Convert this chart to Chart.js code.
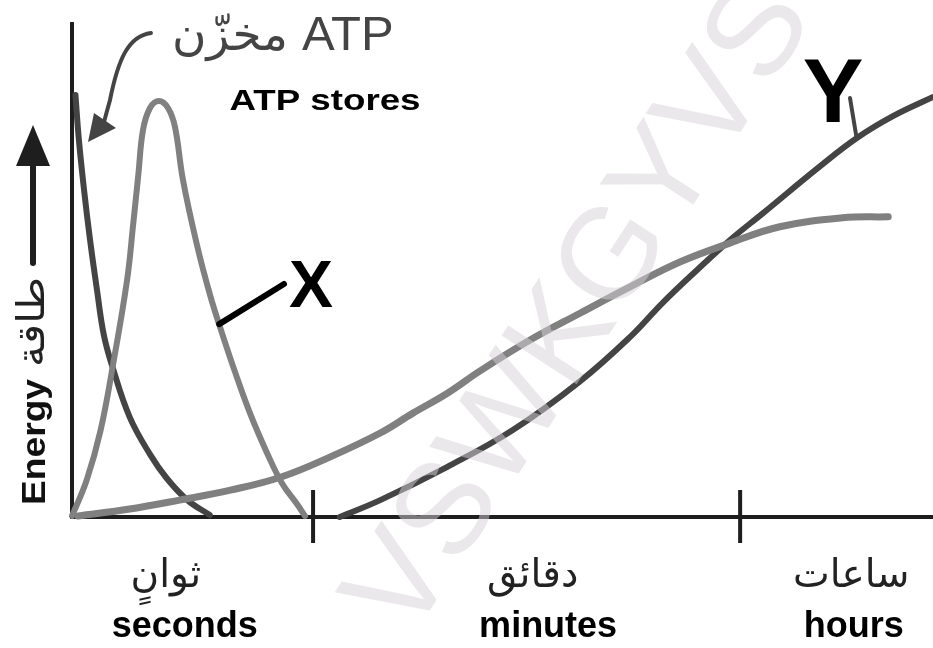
<!DOCTYPE html>
<html>
<head>
<meta charset="utf-8">
<script src="https://cdn.jsdelivr.net/npm/chart.js@4/dist/chart.umd.min.js"></script>
<style>
  html, body { margin: 0; padding: 0; background: #fff; }
  canvas { display: block; }
</style>
</head>
<body>
<canvas id="energyChart" width="933" height="648"></canvas>
<script>
// time runs 0..100 across the axis, energy 0..100 up the axis (no units on the original)

// ATP stores (dark, falls off in seconds)
const atpTime = [0.4, 0.8, 1.4, 2.1, 2.9, 3.7, 4.7, 6.7, 9.1, 11.0, 13.4, 16.0]
const atpEnergy = [84.9, 75.9, 65.8, 55.7, 45.7, 36.6, 30.2, 20.1, 12.5, 7.8, 3.4, 0.4]

// X (grey peak)
const xTime = [0, 1.7, 3.3, 4.8, 6.4, 7.1, 7.7, 8.25, 9.06, 10.1, 11.15, 11.96, 12.89, 14.52, 16.03, 17.42, 18.93, 20.67, 22.65, 24.39, 26.13, 27.06]
const xEnergy = [0.2, 7.4, 17.3, 31.0, 47.7, 58.8, 68.8, 77.9, 82.3, 83.7, 82.3, 78.5, 67.8, 54.7, 44.7, 37.0, 29.2, 20.9, 12.9, 6.8, 2.6, 0.2]

// long grey curve (seconds to hours)
const slowTime = [0.7, 6.7, 12.5, 18.4, 24.2, 30.0, 35.8, 39.6, 43.6, 47.4, 53.2, 59.0, 64.8, 70.6, 76.4, 82.2, 89.5, 94.8]
const slowEnergy = [0.2, 1.6, 3.4, 5.4, 8.0, 12.1, 16.9, 20.9, 24.9, 29.4, 35.6, 41.0, 46.3, 51.3, 55.1, 58.4, 60.2, 60.4]

// Y (dark, minutes to hours)
const yTime = [31.1, 35.8, 43.6, 51.2, 59.0, 64.8, 68.6, 72.6, 76.4, 80.3, 86.9, 91.2, 95.4, 100]
const yEnergy = [0, 3.4, 10.1, 17.5, 27.3, 36.2, 43.1, 49.7, 55.7, 61.2, 70.6, 76.3, 80.7, 84.5]

// axis divisions and their labels
const tickTimes = [28, 77.6]
const periodEn = ['seconds', 'minutes', 'hours']
const periodAr = ['ثوانٍ', 'دقائق', 'ساعات']
const periodEnAt = [13.1, 55.3, 90.8]
const periodArAt = [10.9, 53.5, 90.5]

const DARK = '#444444'
const GREY = '#808080'
const AXIS = '#1e1e1e'
const AR_FONT = '"DejaVu Sans"'
const EN_FONT = '"Liberation Sans", Arial'

function points(xs, ys) {
    return xs.map((x, i) => ({ x: x, y: ys[i] }))
}

function curve(xs, ys, color, width) {
    return {
        data: points(xs, ys),
        borderColor: color,
        borderWidth: width,
        borderCapStyle: 'round',
        borderJoinStyle: 'round',
        tension: 0.4,
        pointRadius: 0,
        clip: false
    }
}

// text helper: optional width stretches/squeezes horizontally
function txt(ctx, s, x, y, font, color, align, w) {
    ctx.save()
    ctx.font = font
    ctx.fillStyle = color
    ctx.textAlign = align || 'center'
    ctx.textBaseline = 'alphabetic'
    ctx.translate(x, y)
    if (w) {
        const m = ctx.measureText(s).width
        ctx.scale(w / m, 1)
    }
    ctx.fillText(s, 0, 0)
    ctx.restore()
}

function line(ctx, x1, y1, x2, y2, color, width) {
    ctx.save()
    ctx.strokeStyle = color
    ctx.lineWidth = width
    ctx.lineCap = 'round'
    ctx.beginPath()
    ctx.moveTo(x1, y1)
    ctx.lineTo(x2, y2)
    ctx.stroke()
    ctx.restore()
}

// axes under the curves
const axesPlugin = {
    id: 'axes',
    beforeDatasetsDraw(chart) {
        const ctx = chart.ctx
        const a = chart.chartArea
        const xs = chart.scales.x
        ctx.save()
        ctx.strokeStyle = AXIS
        ctx.lineWidth = 4
        ctx.lineCap = 'butt'
        ctx.beginPath()
        ctx.moveTo(a.left, a.top + 2)
        ctx.lineTo(a.left, a.bottom + 2)
        ctx.moveTo(a.left - 2, a.bottom)
        ctx.lineTo(a.right, a.bottom)
        tickTimes.forEach(t => {
            const px = xs.getPixelForValue(t)
            ctx.moveTo(px, a.bottom - 27)
            ctx.lineTo(px, a.bottom + 26)
        })
        ctx.stroke()
        ctx.restore()
    }
}

// faint watermark across the plot
const watermarkPlugin = {
    id: 'watermark',
    afterDatasetsDraw(chart) {
        const ctx = chart.ctx
        ctx.save()
        ctx.translate(582, 310)
        ctx.rotate(-57 * Math.PI / 180)
        ctx.font = '130px ' + EN_FONT
        ctx.fillStyle = 'rgba(215,210,215,0.5)'
        ctx.textAlign = 'center'
        ctx.textBaseline = 'middle'
        ctx.fillText('VSWKGYVS', 0, 0)
        ctx.restore()
    }
}

// labels, pointers, arrows
const labelsPlugin = {
    id: 'labels',
    afterDraw(chart) {
        const ctx = chart.ctx
        const xs = chart.scales.x
        const ys = chart.scales.y

        // period labels under the axis
        periodAr.forEach((s, i) => {
            txt(ctx, s, xs.getPixelForValue(periodArAt[i]), 587, '39px ' + AR_FONT, '#222')
        })
        periodEn.forEach((s, i) => {
            txt(ctx, s, xs.getPixelForValue(periodEnAt[i]), 637, 'bold 36px ' + EN_FONT, '#000')
        })

        // top caption
        txt(ctx, 'ATP', 302, 50, '49px ' + EN_FONT, DARK, 'left')
        txt(ctx, 'مخزّن', 288, 50, '46px ' + AR_FONT, DARK, 'right', 116)
        txt(ctx, 'ATP stores', 325, 110, 'bold 30px ' + EN_FONT, '#000', 'center', 191)

        // curved arrow to the ATP curve
        ctx.save()
        ctx.strokeStyle = DARK
        ctx.fillStyle = DARK
        ctx.lineWidth = 4
        ctx.lineCap = 'round'
        ctx.beginPath()
        ctx.moveTo(151, 33)
        ctx.bezierCurveTo(128, 36, 118, 60, 110, 100)
        ctx.lineTo(104, 122)
        ctx.stroke()
        ctx.beginPath()
        ctx.moveTo(88, 142)
        ctx.lineTo(94, 113)
        ctx.lineTo(116, 128)
        ctx.closePath()
        ctx.fill()
        ctx.restore()

        // X pointer and label
        const xp = { x: xs.getPixelForValue(17.1), y: ys.getPixelForValue(38.8) }
        line(ctx, xp.x, xp.y, 284, 284, '#000', 6)
        txt(ctx, 'X', 311, 307, 'bold 66px ' + EN_FONT, '#000')

        // Y pointer and label
        const yp = { x: xs.getPixelForValue(91.2), y: ys.getPixelForValue(76.3) }
        line(ctx, 850, 98, yp.x - 1, yp.y - 2, DARK, 4)
        txt(ctx, 'Y', 833, 122, 'bold 91px ' + EN_FONT, '#000')

        // y axis title with arrow
        ctx.save()
        ctx.translate(33, 0)
        ctx.rotate(-Math.PI / 2)
        txt(ctx, 'Energy', -442, 12, 'bold 34px ' + EN_FONT, '#111', 'center', 126)
        txt(ctx, 'طاقة', -322, 11, '38px ' + AR_FONT, '#222', 'center', 90)
        ctx.restore()
        line(ctx, 33, 263, 33, 160, AXIS, 6)
        ctx.save()
        ctx.fillStyle = AXIS
        ctx.beginPath()
        ctx.moveTo(33, 125)
        ctx.lineTo(16, 166)
        ctx.lineTo(50, 166)
        ctx.closePath()
        ctx.fill()
        ctx.restore()
    }
}

new Chart(document.getElementById('energyChart'), {
    type: 'line',
    data: {
        datasets: [
            curve(slowTime, slowEnergy, GREY, 7),
            curve(xTime, xEnergy, GREY, 6),
            curve(atpTime, atpEnergy, DARK, 6),
            curve(yTime, yEnergy, DARK, 6)
        ]
    },
    options: {
        responsive: false,
        animation: false,
        layout: { padding: { left: 72, right: 0, top: 20, bottom: 131 } },
        plugins: {
            legend: { display: false },
            tooltip: { enabled: false }
        },
        scales: {
            x: { type: 'linear', min: 0, max: 100, display: false },
            y: { type: 'linear', min: 0, max: 100, display: false }
        }
    },
    plugins: [axesPlugin, watermarkPlugin, labelsPlugin]
})
</script>
</body>
</html>
